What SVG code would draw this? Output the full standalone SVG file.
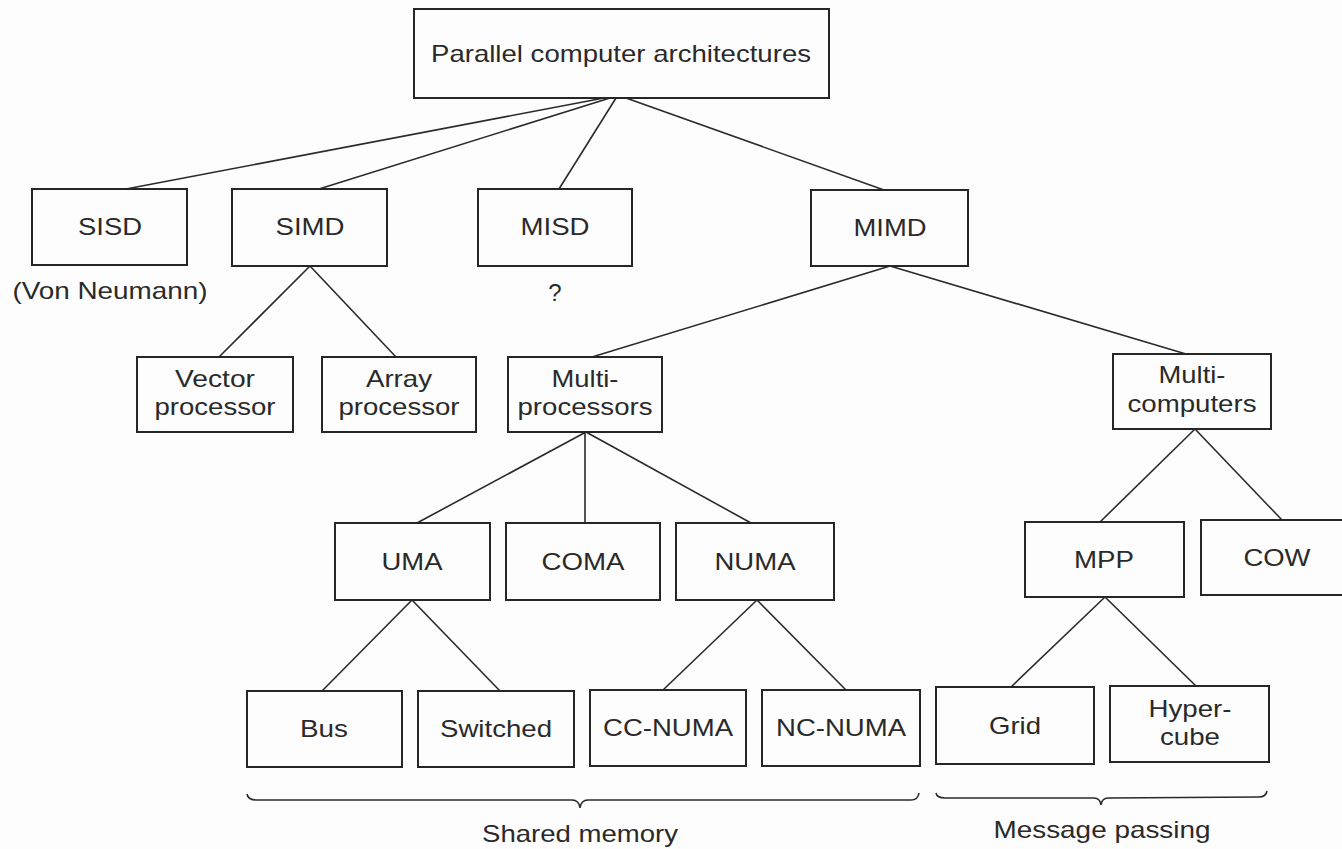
<svg xmlns="http://www.w3.org/2000/svg" width="1342" height="849" viewBox="0 0 1342 849">
<style>
.box{fill:none;stroke:#262626;stroke-width:2}
.ln{fill:none;stroke:#2a2a2a;stroke-width:1.6}
text{font-family:"Liberation Sans",Arial,sans-serif;font-size:24px;fill:#2a2a2a;text-anchor:middle}
</style>
<rect width="1342" height="849" fill="#fdfdfd"/>
<g id="connectors">
<line class="ln" x1="604" y1="98" x2="126" y2="189"/>
<line class="ln" x1="610" y1="98" x2="319" y2="189"/>
<line class="ln" x1="616" y1="98" x2="559" y2="189"/>
<line class="ln" x1="626" y1="98" x2="884" y2="190"/>
<line class="ln" x1="310" y1="266" x2="219" y2="357"/>
<line class="ln" x1="310" y1="266" x2="396" y2="357"/>
<line class="ln" x1="890" y1="266" x2="592" y2="357"/>
<line class="ln" x1="890" y1="266" x2="1186" y2="354"/>
<line class="ln" x1="586" y1="432" x2="417" y2="523"/>
<line class="ln" x1="585" y1="432" x2="585" y2="523"/>
<line class="ln" x1="586" y1="432" x2="751" y2="523"/>
<line class="ln" x1="1195" y1="429" x2="1100" y2="522"/>
<line class="ln" x1="1195" y1="429" x2="1282" y2="520"/>
<line class="ln" x1="412" y1="600" x2="322" y2="691"/>
<line class="ln" x1="412" y1="600" x2="500" y2="691"/>
<line class="ln" x1="757" y1="600" x2="663" y2="690"/>
<line class="ln" x1="757" y1="600" x2="846" y2="690"/>
<line class="ln" x1="1105" y1="597" x2="1011" y2="687"/>
<line class="ln" x1="1105" y1="597" x2="1196" y2="686"/>
</g>
<g id="root"><rect class="box" x="414" y="9" width="415" height="89"/><text x="621" y="62" textLength="380" lengthAdjust="spacingAndGlyphs">Parallel computer architectures</text></g>
<g id="sisd"><rect class="box" x="32" y="189" width="155" height="76"/><text x="110" y="235" textLength="64" lengthAdjust="spacingAndGlyphs">SISD</text><text x="110" y="299" textLength="195" lengthAdjust="spacingAndGlyphs">(Von Neumann)</text></g>
<g id="simd"><rect class="box" x="232" y="189" width="155" height="77"/><text x="310" y="235" textLength="69" lengthAdjust="spacingAndGlyphs">SIMD</text></g>
<g id="misd"><rect class="box" x="478" y="189" width="154" height="77"/><text x="555" y="235" textLength="69" lengthAdjust="spacingAndGlyphs">MISD</text><text x="555" y="301">?</text></g>
<g id="mimd"><rect class="box" x="811" y="190" width="157" height="76"/><text x="890" y="236" textLength="73" lengthAdjust="spacingAndGlyphs">MIMD</text></g>
<g id="vector"><rect class="box" x="137" y="357" width="156" height="75"/><text x="215" y="387" textLength="80" lengthAdjust="spacingAndGlyphs">Vector</text><text x="215" y="415" textLength="121" lengthAdjust="spacingAndGlyphs">processor</text></g>
<g id="array"><rect class="box" x="322" y="357" width="154" height="75"/><text x="399" y="387" textLength="66" lengthAdjust="spacingAndGlyphs">Array</text><text x="399" y="415" textLength="121" lengthAdjust="spacingAndGlyphs">processor</text></g>
<g id="multiprocessors"><rect class="box" x="508" y="357" width="154" height="75"/><text x="585" y="387" textLength="67" lengthAdjust="spacingAndGlyphs">Multi-</text><text x="585" y="415" textLength="135" lengthAdjust="spacingAndGlyphs">processors</text></g>
<g id="multicomputers"><rect class="box" x="1113" y="354" width="158" height="75"/><text x="1192" y="383" textLength="67" lengthAdjust="spacingAndGlyphs">Multi-</text><text x="1192" y="412" textLength="129" lengthAdjust="spacingAndGlyphs">computers</text></g>
<g id="uma"><rect class="box" x="335" y="523" width="155" height="77"/><text x="412" y="570" textLength="61" lengthAdjust="spacingAndGlyphs">UMA</text></g>
<g id="coma"><rect class="box" x="506" y="523" width="154" height="77"/><text x="583" y="570" textLength="83" lengthAdjust="spacingAndGlyphs">COMA</text></g>
<g id="numa"><rect class="box" x="676" y="523" width="158" height="77"/><text x="755" y="570" textLength="81" lengthAdjust="spacingAndGlyphs">NUMA</text></g>
<g id="mpp"><rect class="box" x="1025" y="522" width="159" height="75"/><text x="1104" y="568" textLength="60" lengthAdjust="spacingAndGlyphs">MPP</text></g>
<g id="cow"><rect class="box" x="1201" y="520" width="155" height="75"/><text x="1277" y="566" textLength="67" lengthAdjust="spacingAndGlyphs">COW</text></g>
<g id="bus"><rect class="box" x="247" y="691" width="155" height="76"/><text x="324" y="737" textLength="48" lengthAdjust="spacingAndGlyphs">Bus</text></g>
<g id="switched"><rect class="box" x="418" y="691" width="156" height="76"/><text x="496" y="737" textLength="112" lengthAdjust="spacingAndGlyphs">Switched</text></g>
<g id="ccnuma"><rect class="box" x="590" y="690" width="156" height="76"/><text x="668" y="736" textLength="130" lengthAdjust="spacingAndGlyphs">CC-NUMA</text></g>
<g id="ncnuma"><rect class="box" x="762" y="690" width="158" height="76"/><text x="841" y="736" textLength="130" lengthAdjust="spacingAndGlyphs">NC-NUMA</text></g>
<g id="grid"><rect class="box" x="936" y="687" width="158" height="77"/><text x="1015" y="734" textLength="52" lengthAdjust="spacingAndGlyphs">Grid</text></g>
<g id="hypercube"><rect class="box" x="1110" y="686" width="159" height="76"/><text x="1190" y="717" textLength="83" lengthAdjust="spacingAndGlyphs">Hyper-</text><text x="1190" y="745" textLength="60" lengthAdjust="spacingAndGlyphs">cube</text></g>
<g id="shared-memory"><path class="ln" d="M247,794 Q248,800 256,800 L572,800 Q579,800 580,808 Q581,800 588,800 L911,800 Q918,800 919,793"/><text x="580" y="842" textLength="196" lengthAdjust="spacingAndGlyphs">Shared memory</text></g>
<g id="message-passing"><path class="ln" d="M936,793 Q937,798 945,798 L1094,798 Q1100,798 1101,805 Q1102,798 1108,798 L1259,797 Q1266,797 1267,791"/><text x="1102" y="838" textLength="217" lengthAdjust="spacingAndGlyphs">Message passing</text></g>
</svg>
